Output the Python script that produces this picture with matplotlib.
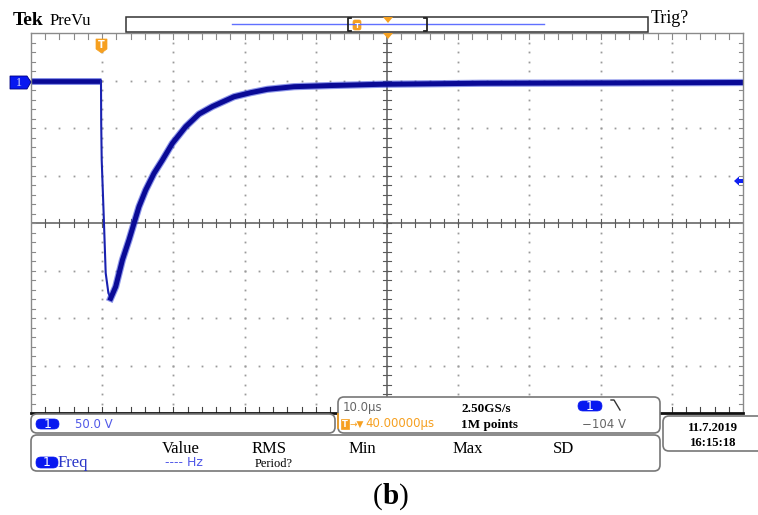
import matplotlib
matplotlib.use("Agg")
import matplotlib.pyplot as plt
from matplotlib.patches import FancyBboxPatch, Polygon, Rectangle

# trace: time in us (trigger at 0), volts
pre_t = [-10.0, -0.17]
pre_v = [-0.5, -0.5]
edge_t = [-0.17, -0.14, -0.07, 0.25, 0.49, 0.87, 1.19]
edge_v = [-0.5, -44.7, -83.7, -150.0, -202.6, -223.7, -229.3]
tail_t = [1.19, 1.90, 2.84, 3.76, 4.47, 5.17, 6.11, 7.28, 8.46, 9.86, 11.73,
          13.60, 15.48, 18.51, 20.86, 23.20, 26.94, 32.09, 39.12, 53.16, 70.01, 90.0]
tail_v = [-229.3, -217.0, -188.9, -167.9, -150.3, -132.8, -115.3, -97.7, -83.7,
          -66.1, -48.6, -35.3, -27.4, -17.1, -12.8, -9.3, -6.5, -5.3, -4.0, -2.9,
          -2.6, -2.1]

meas_heads = ["Value", "RMS", "Min", "Max", "SD"]
meas_x = [162, 252, 349, 453, 553]

W, H = 758, 515
fig = plt.figure(figsize=(W / 100, H / 100), dpi=100)

def px(x0, y0, x1, y1):
    return [x0 / W, 1 - y1 / H, (x1 - x0) / W, (y1 - y0) / H]

# ---- scope graticule + trace
ax = fig.add_axes(px(31, 33, 743, 413))
ax.set_xlim(-10, 90)
ax.set_ylim(-350, 50)
ax.set_xticks([])
ax.set_yticks([])
for s in ["left", "right", "top"]:
    ax.spines[s].set_color("#8a8a8a")
    ax.spines[s].set_linewidth(1.0)
ax.spines["bottom"].set_color("#111111")
ax.spines["bottom"].set_linewidth(2.0)

dot = "#9a9a9a"
for i in range(1, 10):
    if i == 5:
        continue
    xv = -10 + 10 * i
    ys = [50 - 10 * k for k in range(1, 40)]
    ax.plot([xv] * len(ys), ys, ls="none", marker="s", ms=1.3, color=dot, mew=0)
for j in range(1, 8):
    if j == 4:
        continue
    yv = 50 - 50 * j
    xs = [-10 + 2 * k for k in range(1, 50)]
    ax.plot(xs, [yv] * len(xs), ls="none", marker="s", ms=1.3, color=dot, mew=0)

ax.axhline(-150, color="#5a5a5a", lw=1.1)
ax.axvline(40, color="#5a5a5a", lw=1.1)
for k in range(1, 50):
    xv = -10 + 2 * k
    ax.plot([xv, xv], [-154, -146], color="#5a5a5a", lw=0.8)
    ax.plot([xv, xv], [50, 44], color="#8a8a8a", lw=0.8)
    ax.plot([xv, xv], [-350, -344], color="#444444", lw=0.8)
for k in range(1, 40):
    yv = 50 - 10 * k
    ax.plot([39.4, 40.6], [yv, yv], color="#5a5a5a", lw=0.8)
    ax.plot([-10, -9.4], [yv, yv], color="#8a8a8a", lw=0.8)
    ax.plot([89.4, 90], [yv, yv], color="#8a8a8a", lw=0.8)

blue = "#0a0a96"
ax.plot(pre_t, pre_v, color="#3040d8", lw=5.0, solid_capstyle="butt", alpha=0.6)
ax.plot(pre_t, pre_v, color=blue, lw=3.4, solid_capstyle="butt")
ax.plot(edge_t, edge_v, color="#1a22b0", lw=1.5)
ax.plot(tail_t, tail_v, color="#3040d8", lw=5.2, alpha=0.55)
ax.plot(tail_t, tail_v, color=blue, lw=3.6)

# ---- overlay for the scope UI
ov = fig.add_axes([0, 0, 1, 1])
ov.set_xlim(0, W)
ov.set_ylim(H, 0)
ov.axis("off")
ov.patch.set_visible(False)

serif = "Liberation Serif"
sans = "DejaVu Sans"
orange = "#f6a020"
pill_blue = "#0818f0"

def rbox(x0, y0, x1, y1, ec="#555555", r=6, lw=1.2, fc="white"):
    ov.add_patch(FancyBboxPatch((x0, y0), x1 - x0, y1 - y0,
                                boxstyle="round,pad=0,rounding_size=%d" % r,
                                ec=ec, fc=fc, lw=lw))

def pill(x0, y0, x1, y1):
    ov.add_patch(FancyBboxPatch((x0, y0), x1 - x0, y1 - y0,
                                boxstyle="round,pad=0,rounding_size=5",
                                ec=pill_blue, fc=pill_blue, lw=0.5))
    ov.text((x0 + x1) / 2, (y0 + y1) / 2 + 0.5, "1", color="white", fontsize=9,
            family=sans, ha="center", va="center")

# header
ov.text(13, 25, "Tek", family=serif, weight="bold", fontsize=14, va="baseline")
ov.text(50, 25, "PreVu", family=serif, fontsize=12, va="baseline")
ov.text(651, 23, "Trig?", family=serif, fontsize=13, va="baseline")
ov.add_patch(Rectangle((126, 17), 522, 15, ec="#333333", fc="white", lw=1.1))
ov.plot([232, 544], [24, 24], color="#6070ff", lw=1.0)
ov.plot([351, 348, 348, 351], [18, 18, 31, 31], color="#222222", lw=1.3)
ov.plot([424, 427, 427, 424], [18, 18, 31, 31], color="#222222", lw=1.3)
ov.add_patch(FancyBboxPatch((353, 20), 8, 10, boxstyle="round,pad=0,rounding_size=2",
                            ec=orange, fc=orange, lw=0.5))
ov.text(357, 25.5, "T", color="white", fontsize=5, ha="center", va="center",
        family=sans, weight="bold")
ov.add_patch(Polygon([[383, 17], [393, 17], [388, 23]], closed=True, fc=orange, ec="none"))
ov.add_patch(Polygon([[383, 33], [393, 33], [388, 39]], closed=True, fc=orange, ec="none"))

# trigger badge over the trace
ov.add_patch(Polygon([[96, 39], [107, 39], [107, 49], [101.5, 53], [96, 49]],
                     closed=True, fc=orange, ec=orange, lw=0.5))
ov.text(101.5, 45.5, "T", color="white", fontsize=7, ha="center", va="center",
        family=sans, weight="bold")

# channel ground marker
ov.add_patch(Polygon([[10, 76], [27, 76], [31, 82], [27, 89], [10, 89]],
                     closed=True, fc=pill_blue, ec="#000080", lw=0.6))
ov.text(19, 82.5, "1", color="#e0e0ff", fontsize=8.5, ha="center", va="center", family=serif)

# trigger level arrow
ov.add_patch(Polygon([[734, 181], [739, 176.5], [739, 179], [743, 179], [743, 183],
                      [739, 183], [739, 185.5]], closed=True, fc="#1020f0", ec="none"))

# channel readout
rbox(31, 414, 335, 433, ec="#777777")
pill(36, 419, 59, 429)
ov.text(75, 424, "50.0 V", color="#5058e8", fontsize=8.5, family=sans, va="center")

# timebase readout
rbox(338, 397, 660, 433, ec="#777777")
ov.plot([338, 338], [414, 428], color=orange, lw=1.2)
ov.text(343, 408, "10.0µs", color="#666666", fontsize=8.5, family=sans, va="center")
ov.text(461, 412, "2.50GS/s", family=serif, weight="bold", fontsize=9.5, va="baseline")
ov.text(461, 428, "1M points", family=serif, weight="bold", fontsize=9.5, va="baseline")
pill(578, 401, 602, 411)
ov.plot([611, 614, 620], [400, 400, 410], color="#333333", lw=1.0)
ov.add_patch(Rectangle((341, 419), 8, 10, fc=orange, ec=orange, lw=0.5))
ov.text(345, 424.5, "T", color="white", fontsize=6, ha="center", va="center",
        family=sans, weight="bold")
ov.text(350, 424, "→▼", color=orange, fontsize=6.5, family=sans, va="center")
ov.text(365, 424, "40.00000µs", color=orange, fontsize=8.5, family=sans, va="center")
ov.text(582, 424, "−104 V", color="#666666", fontsize=8.5, family=sans, va="center")

# date readout
rbox(663, 416, 775, 451, ec="#777777")
ov.text(713, 431, "11.7.2019", family=serif, weight="bold", fontsize=9.2,
        ha="center", va="baseline")
ov.text(713, 446, "16:15:18", family=serif, weight="bold", fontsize=9.2,
        ha="center", va="baseline")

# measurements
rbox(31, 435, 660, 471, ec="#777777")
for name, xh in zip(meas_heads, meas_x):
    ov.text(xh, 453, name, family=serif, fontsize=12, va="baseline")
pill(36, 457, 58, 468)
ov.text(58, 467, "Freq", family=serif, fontsize=12, color="#2a36c8", va="baseline")
ov.text(165, 462, "---- Hz", family=sans, fontsize=9, color="#5058e8", va="center")
ov.text(255, 467, "Period?", family=serif, fontsize=9, va="baseline")

# caption
ov.text(382, 497, "(", family=serif, fontsize=21, ha="right", va="center")
ov.text(390.5, 497, "b", family=serif, weight="bold", fontsize=21, ha="center", va="center")
ov.text(399, 497, ")", family=serif, fontsize=21, ha="left", va="center")

fig.savefig("out.png", dpi=100)
